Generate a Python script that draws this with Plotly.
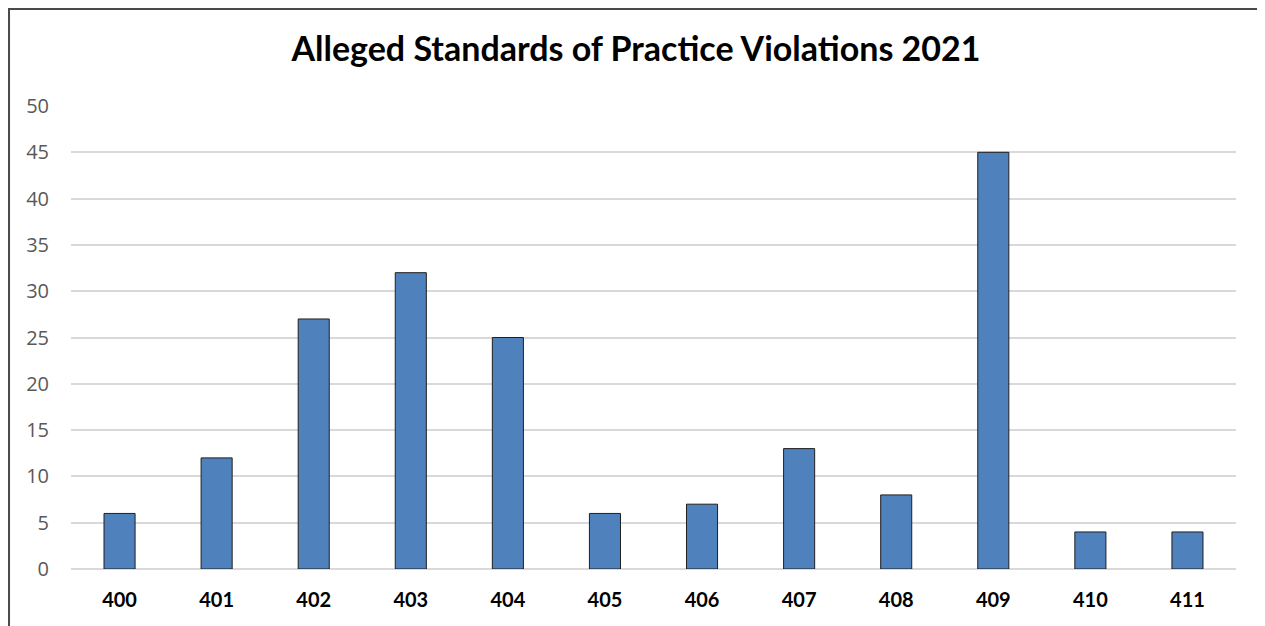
import plotly.graph_objects as go

# standards codes and number of alleged violations
codes = ["400", "401", "402", "403", "404", "405", "406", "407", "408", "409", "410", "411"]
violations = [6, 12, 27, 32, 25, 6, 7, 13, 8, 45, 4, 4]
y_ticks = [0, 5, 10, 15, 20, 25, 30, 35, 40, 45, 50]

fig = go.Figure()
fig.add_trace(go.Bar(
    x=codes, y=violations,
    marker=dict(color="#4F81BD", line=dict(color="#1f1f1f", width=1)),
    width=0.32,
))

fig.update_layout(
    width=1265, height=626,
    margin=dict(l=63, r=37, t=98, b=65),
    paper_bgcolor="white", plot_bgcolor="white",
    showlegend=False,
    title=dict(text="<b>Alleged Standards of Practice Violations 2021</b>",
               x=0.4964, xref="container", xanchor="center", y=0.934, yanchor="middle",
               font=dict(family="Lato", size=34, color="black")),
    xaxis=dict(type="category", range=[-0.5, 11.5], showline=False, ticks="",
               ticklabelstandoff=17,
               tickfont=dict(family="Lato", size=20, color="black", weight="bold")),
    yaxis=dict(range=[0, 50], tickvals=y_ticks, showgrid=True, gridcolor="#d9d9d9",
               gridwidth=2, zeroline=True, zerolinecolor="#d9d9d9", zerolinewidth=2,
               ticks="", ticklabelstandoff=21,
               tickfont=dict(family="Open Sans", size=20, color="#595959")),
)

# outer chart border
fig.add_shape(type="rect", xref="paper", yref="paper",
              x0=-0.0532, x1=1.0232, y0=-0.3, y1=1.2095,
              line=dict(color="#4a4a4a", width=2), fillcolor="rgba(0,0,0,0)")

fig.write_html("out.html")
